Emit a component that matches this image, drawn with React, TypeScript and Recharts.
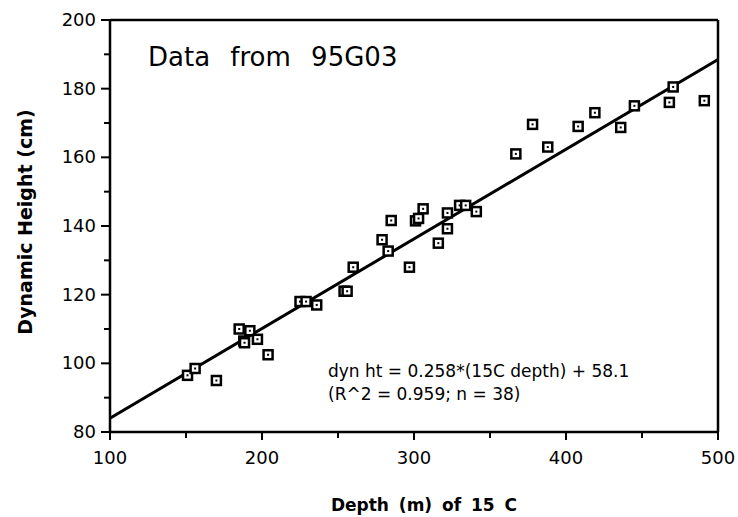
import React from 'react';
import {
  ScatterChart,
  Scatter,
  XAxis,
  YAxis,
  ReferenceLine,
} from 'recharts';

// readings from the 95G03 plot: depth of the 15 C isotherm vs dynamic height
const depth = [
  151, 156, 170, 185, 188, 188.5, 192, 197, 204, 225, 229, 236, 254, 256, 260,
  279, 283, 285, 297, 301, 303, 306, 316, 322, 322, 330, 334, 341, 367, 378,
  388, 408, 419, 436, 445, 468, 470.5, 491,
];
const dynHeight = [
  96.5, 98.5, 95, 110, 106.5, 106, 109.5, 107, 102.5, 118, 118, 117, 121, 121,
  128, 136, 132.7, 141.6, 128, 141.5, 142.2, 145, 135, 139.2, 143.8, 146, 146,
  144.2, 161, 169.6, 163, 169, 173, 168.7, 175, 176, 180.5, 176.5,
];

// fitted line end points as drawn
const fitDepth = [100, 500];
const fitHeight = [84, 188.5];

const xTicks = [100, 150, 200, 250, 300, 350, 400, 450, 500];
const yTicks = [80, 90, 100, 110, 120, 130, 140, 150, 160, 170, 180, 190, 200];

const points = depth.map((d, i) => ({ depth: d, height: dynHeight[i] }));
const fit = fitDepth.map((d, i) => ({ depth: d, height: fitHeight[i] }));

const FONT = '"DejaVu Sans", Verdana, sans-serif';

const XTick = (props: any) => {
  const { x, y, payload } = props;
  const major = payload.value % 100 === 0;
  return (
    <g>
      <line x1={x} y1={y} x2={x} y2={y + (major ? 8 : 6)} stroke="#000" strokeWidth={2} />
      {major && (
        <text x={x} y={y + 32} textAnchor="middle" fontSize={18} fontFamily={FONT} fill="#000">
          {payload.value}
        </text>
      )}
    </g>
  );
};

const YTick = (props: any) => {
  const { x, y, payload } = props;
  const major = payload.value % 20 === 0;
  return (
    <g>
      <line x1={x} y1={y} x2={x - (major ? 9 : 6)} y2={y} stroke="#000" strokeWidth={2} />
      {major && (
        <text x={x - 14} y={y + 6} textAnchor="end" fontSize={18} fontFamily={FONT} fill="#000">
          {payload.value}
        </text>
      )}
    </g>
  );
};

const SquareMark = (props: any) => {
  const { cx, cy } = props;
  if (cx == null || cy == null) return null;
  return (
    <g>
      <rect x={cx - 4.5} y={cy - 4.5} width={9} height={9} fill="#fff" stroke="#000" strokeWidth={2.5} />
      <rect x={cx - 1} y={cy - 1} width={2} height={2} fill="#000" />
    </g>
  );
};

const App: React.FC = () => {
  return (
    <div style={{ position: 'absolute', left: 0, top: 0, width: 738, height: 517, background: '#fff' }}>
      <ScatterChart
        width={738}
        height={517}
        margin={{ top: 20, right: 20, left: 0, bottom: 0 }}
      >
        <XAxis
          type="number"
          dataKey="depth"
          domain={[100, 500]}
          ticks={xTicks}
          interval={0}
          allowDataOverflow
          height={85}
          axisLine={{ stroke: '#000', strokeWidth: 2.5 }}
          tickLine={false}
          tickSize={0}
          tickMargin={0}
          tick={<XTick />}
        />
        <YAxis
          type="number"
          dataKey="height"
          domain={[80, 200]}
          ticks={yTicks}
          interval={0}
          allowDataOverflow
          width={110}
          axisLine={{ stroke: '#000', strokeWidth: 2.5 }}
          tickLine={false}
          tickSize={0}
          tickMargin={0}
          tick={<YTick />}
        />
        <ReferenceLine y={200} stroke="#000" strokeWidth={2.5} />
        <ReferenceLine x={500} stroke="#000" strokeWidth={2.5} />
        <Scatter
          data={fit}
          line={{ stroke: '#000', strokeWidth: 3 }}
          shape={() => null}
          isAnimationActive={false}
        />
        <Scatter data={points} shape={<SquareMark />} isAnimationActive={false} />
      </ScatterChart>

      <div
        style={{
          position: 'absolute',
          left: 148,
          top: 42,
          fontFamily: FONT,
          fontSize: 26,
          wordSpacing: 12,
          whiteSpace: 'nowrap',
        }}
      >
        Data from 95G03
      </div>

      <div
        style={{
          position: 'absolute',
          left: 328,
          top: 360,
          fontFamily: FONT,
          fontSize: 17,
          lineHeight: '23px',
          whiteSpace: 'nowrap',
        }}
      >
        <div>dyn ht = 0.258*(15C depth) + 58.1</div>
        <div>(R^2 = 0.959; n = 38)</div>
      </div>

      <div
        style={{
          position: 'absolute',
          left: 25,
          top: 222,
          transform: 'translate(-50%, -50%) rotate(-90deg)',
          fontFamily: FONT,
          fontWeight: 'bold',
          fontSize: 19,
          whiteSpace: 'nowrap',
        }}
      >
        Dynamic Height (cm)
      </div>

      <div
        style={{
          position: 'absolute',
          left: 424,
          top: 505,
          transform: 'translate(-50%, -50%)',
          fontFamily: FONT,
          fontWeight: 'bold',
          fontSize: 17,
          wordSpacing: 4,
          whiteSpace: 'nowrap',
        }}
      >
        Depth (m) of 15 C
      </div>
    </div>
  );
};

export default App;
